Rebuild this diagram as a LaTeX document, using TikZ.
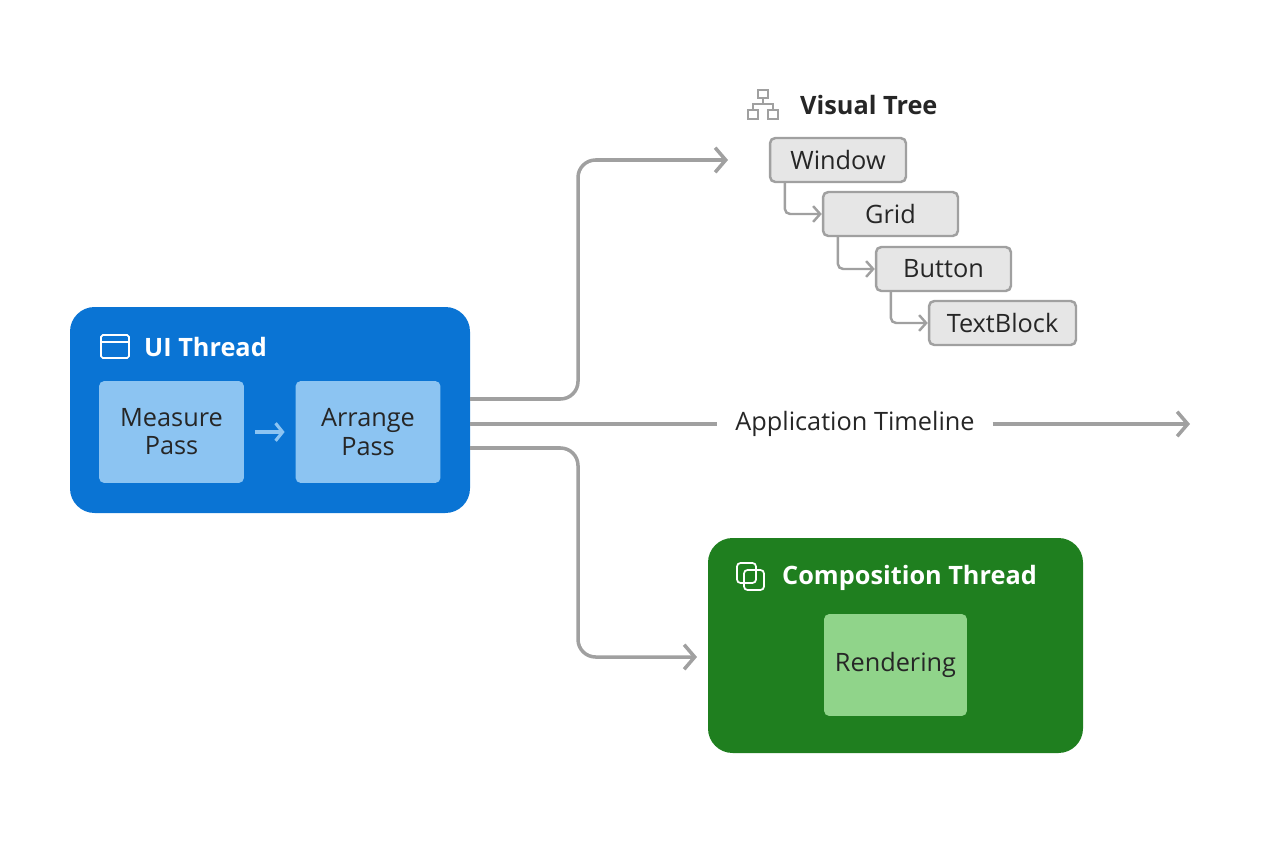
\documentclass[tikz,border=0pt]{standalone}
\usepackage{fontspec}
\setmainfont{Open Sans}
\usepackage{tikz}
\usetikzlibrary{positioning, arrows.meta, calc}
\definecolor{uiblue}{HTML}{0A74D4}
\definecolor{passblue}{HTML}{8CC4F2}
\definecolor{compgreen}{HTML}{1F7F1F}
\definecolor{rendgreen}{HTML}{90D48A}
\definecolor{lineg}{HTML}{A0A0A0}
\definecolor{treefill}{HTML}{E6E6E6}
\tikzset{
    thread/.style={rounded corners=14pt, draw=none},
    pass/.style={rounded corners=3pt, fill=passblue, minimum width=2.9cm, minimum height=2.04cm, align=center, font=\Large, text=black!85},
    treenode/.style={rounded corners=3pt, draw=lineg, line width=1.4pt, fill=treefill, minimum height=0.88cm, font=\Large, text=black!85},
    flow/.style={lineg, line width=2pt, rounded corners=10pt, -{Straight Barb[length=6pt,width=14pt]}},
    treelink/.style={lineg, line width=1.4pt, rounded corners=3pt, -{Straight Barb[length=4pt,width=9pt]}}
}
\begin{document}
\begin{tikzpicture}[x=0.02cm, y=-0.02cm]
    \useasboundingbox (0,0) rectangle (1264,848);

    % ui thread
    \fill[thread, uiblue] (70,307) rectangle (470,513);
    \draw[white, line width=1pt, rounded corners=1pt] (101,335) rectangle (129,358);
    \draw[white, line width=1pt] (101,342) -- (129,342);
    \node[anchor=west, text=white, font=\Large\bfseries] (uititle) at (138,347) {UI Thread};
    \node[pass] (measure) at (171.5,432) {Measure\\[-2pt]Pass};
    \node[pass] (arrange) at (368,432) {Arrange\\[-2pt]Pass};
    \draw[passblue, line width=1.8pt, -{Straight Barb[length=4pt,width=10pt]}] ([xshift=6pt]measure.east) -- ([xshift=-6pt]arrange.west);

    % timeline
    \coordinate (ui1) at (470,399);
    \coordinate (ui2) at (470,424);
    \coordinate (ui3) at (470,448);
    \node[font=\Large, text=black!85, fill=white, inner xsep=10pt] (timeline) at (855,424) {Application Timeline};
    \coordinate (tend) at (1190,424);
    \draw[lineg, line width=2pt] (ui2) -- (timeline);
    \draw[flow] (timeline) -- (tend);

    % visual tree
    \draw[lineg, line width=1pt] (758,90) rectangle (768,98) (748,110) rectangle (758,119) (768,110) rectangle (778,119);
    \draw[lineg, line width=1pt] (763,98) -- (763,104) (753,110) -- (753,104) -- (773,104) -- (773,110);
    \node[anchor=west, font=\Large\bfseries, text=black!85] (treetitle) at (794,105) {Visual Tree};
    \node[treenode, minimum width=2.72cm] (window) at (838,160) {Window};
    \node[treenode, minimum width=2.7cm] (grid) at (890.5,214) {Grid};
    \node[treenode, minimum width=2.7cm] (button) at (943.5,269) {Button};
    \node[treenode, minimum width=2.94cm] (textblock) at (1002.5,323) {TextBlock};
    \draw[treelink] ($(window.south west)+(16,0)$) |- (grid.west);
    \draw[treelink] ($(grid.south west)+(16,0)$) |- (button.west);
    \draw[treelink] ($(button.south west)+(16,0)$) |- (textblock.west);
    \coordinate (treein) at (728,160);
    \draw[flow] (ui1) -| (578,160) -- (treein);

    % composition thread
    \fill[thread, compgreen] (708,538) rectangle (1083,753);
    \draw[white, line width=1pt, rounded corners=2pt] (737,563) rectangle (756,583);
    \draw[white, line width=1pt, rounded corners=2pt] (744,570) rectangle (764,590);
    \node[anchor=west, text=white, font=\Large\bfseries] (comptitle) at (776,578) {Composition Thread};
    \node[rounded corners=3pt, fill=rendgreen, minimum width=2.86cm, minimum height=2.04cm, font=\Large, text=black!85] (render) at (895.5,665) {Rendering};
    \coordinate (compin) at (697,657);
    \draw[flow] (ui3) -| (578,657) -- (compin);
\end{tikzpicture}
\end{document}
